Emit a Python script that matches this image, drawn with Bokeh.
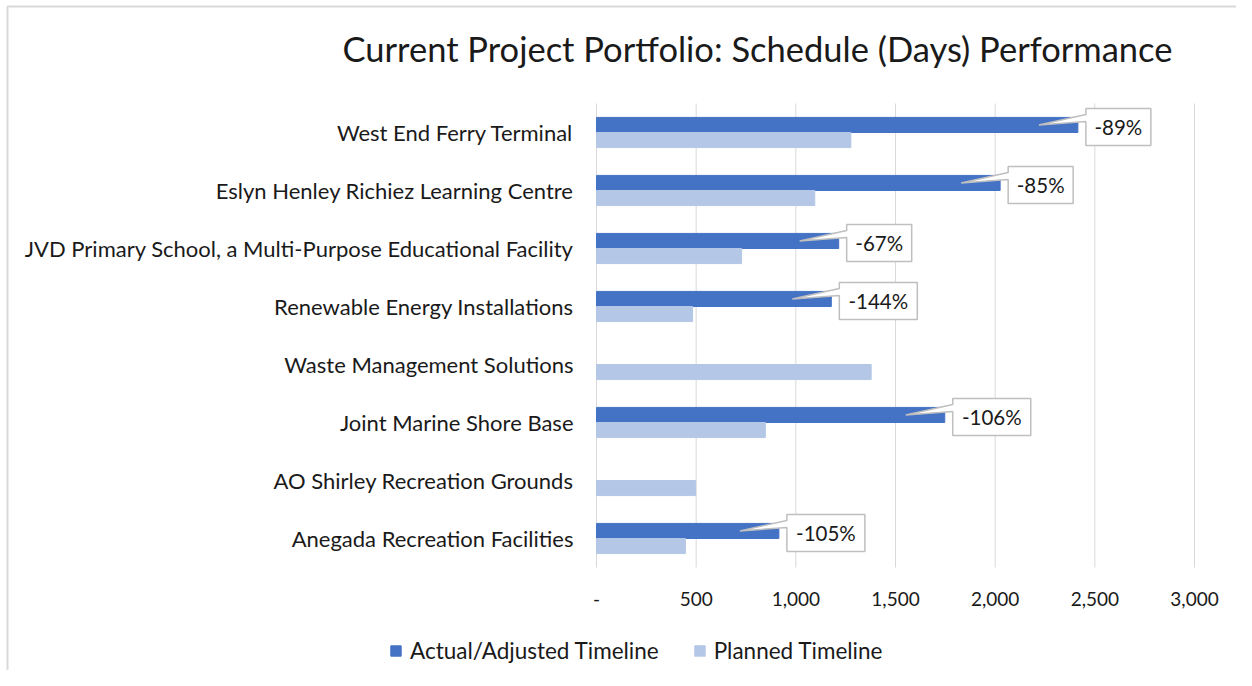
import numpy as np
from bokeh.plotting import figure
from bokeh.models import Range1d, Label, Legend, LegendItem, ColumnDataSource
from bokeh.core.properties import value
from bokeh.embed import file_html
from bokeh.resources import INLINE

categories = [
    "West End Ferry Terminal",
    "Eslyn Henley Richiez Learning Centre",
    "JVD Primary School, a Multi-Purpose Educational Facility",
    "Renewable Energy Installations",
    "Waste Management Solutions",
    "Joint Marine Shore Base",
    "AO Shirley Recreation Grounds",
    "Anegada Recreation Facilities",
]
actual = [2415, 2025, 1215, 1178, None, 1747, None, 915]
planned = [1276, 1095, 728, 482, 1378, 847, 497, 446]
variance_labels = ["-89%", "-85%", "-67%", "-144%", "", "-106%", "", "-105%"]
x_ticks = [0, 500, 1000, 1500, 2000, 2500, 3000]
x_tick_labels = ["-", "500", "1,000", "1,500", "2,000", "2,500", "3,000"]
title = "Current Project Portfolio: Schedule (Days) Performance"
series_names = ["Actual/Adjusted Timeline", "Planned Timeline"]

FONT = "Lato"
DARK = "#4472c4"
LIGHT = "#b4c7e7"
TXT = "#1a1a1a"

n = len(categories)
yc = [n - i - 0.5 for i in range(n)]
act = [np.nan if v is None else v for v in actual]

# layout (figure pixels)
W, H = 1236, 670
X0PX, X3000PX = 596, 1194      # value axis extent
YTOP, YBOT = 103, 567          # category area
PX_X = 3000 / (X3000PX - X0PX)
PX_Y = n / (YBOT - YTOP)

def fx(px):
    return (px - X0PX) * PX_X

def fy(py):
    return (YBOT - py) * PX_Y

p = figure(width=W, height=H, output_backend="svg", toolbar_location=None,
           x_axis_location=None, y_axis_location=None,
           x_range=Range1d(fx(0), fx(W)), y_range=Range1d(fy(H), fy(0)),
           min_border=0)
p.outline_line_color = None
p.background_fill_color = "white"
p.border_fill_color = "white"
p.xgrid.visible = False
p.ygrid.visible = False

# chart border (top and left edges visible in the reference)
p.line(x=[fx(7), fx(7), fx(W)], y=[fy(H), fy(6), fy(6)], line_color="#d9d9d9", line_width=2)

# gridlines
p.segment(x0=x_ticks, y0=0, x1=x_ticks, y1=n, line_color="#d9d9d9", line_width=1)

BH = 0.26
src = ColumnDataSource(dict(y=yc, act=act, plan=planned,
                            ya=[v + BH / 2 for v in yc], yp=[v - BH / 2 for v in yc]))
r_act = p.hbar(y="ya", left=0, right="act", height=BH, color=DARK, source=src)
r_plan = p.hbar(y="yp", left=0, right="plan", height=BH, color=LIGHT, source=src)

# category labels
p.text(x=[0] * n, y=yc, text=categories, x_offset=-23, text_align="right", text_baseline="middle",
       text_font=value(FONT), text_font_size="22px", text_color=TXT)

# tick labels
p.text(x=x_ticks, y=[0] * len(x_ticks), text=x_tick_labels, y_offset=31,
       text_align="center", text_baseline="middle",
       text_font=value(FONT), text_font_size="19px", text_color=TXT)

# callouts
xs, ys, tx, ty, tt = [], [], [], [], []
for a, y, lab in zip(act, yc, variance_labels):
    if np.isnan(a) or not lab:
        continue
    w = 13 * len(lab) + 13
    L = a + 8 * PX_X
    R = L + w * PX_X
    T = y + BH + 9 * PX_Y
    B = T - 37 * PX_Y
    tipx = a - 39 * PX_X
    tipy = y + BH / 2
    xs.append([L, R, R, L, L, tipx, L, L])
    ys.append([T, T, B, B, T - 13 * PX_Y, tipy, T - 6 * PX_Y, T])
    tx.append((L + R) / 2)
    ty.append((T + B) / 2)
    tt.append(lab)
p.patches(xs, ys, fill_color="white", line_color="#bfbfbf", line_width=1.5)
p.text(x=tx, y=ty, text=tt, text_align="center", text_baseline="middle",
       text_font=value(FONT), text_font_size="20.5px", text_color=TXT)

# title
p.add_layout(Label(x=757, y=H - 48, x_units="screen", y_units="screen",
                   text=title, text_align="center", text_baseline="middle",
                   text_font=FONT, text_font_size="34.5px", text_color=TXT))

# legend
legend = Legend(items=[LegendItem(label=series_names[0], renderers=[r_act]),
                       LegendItem(label=series_names[1], renderers=[r_plan])],
                orientation="horizontal", location=(389, H - 664),
                padding=0, margin=0, spacing=34, label_standoff=8,
                glyph_width=13, glyph_height=13,
                label_text_font=FONT, label_text_font_size="22.5px", label_text_color=TXT,
                border_line_color=None, background_fill_alpha=0)
p.add_layout(legend)

open("out.html", "w").write(file_html(p, INLINE))
